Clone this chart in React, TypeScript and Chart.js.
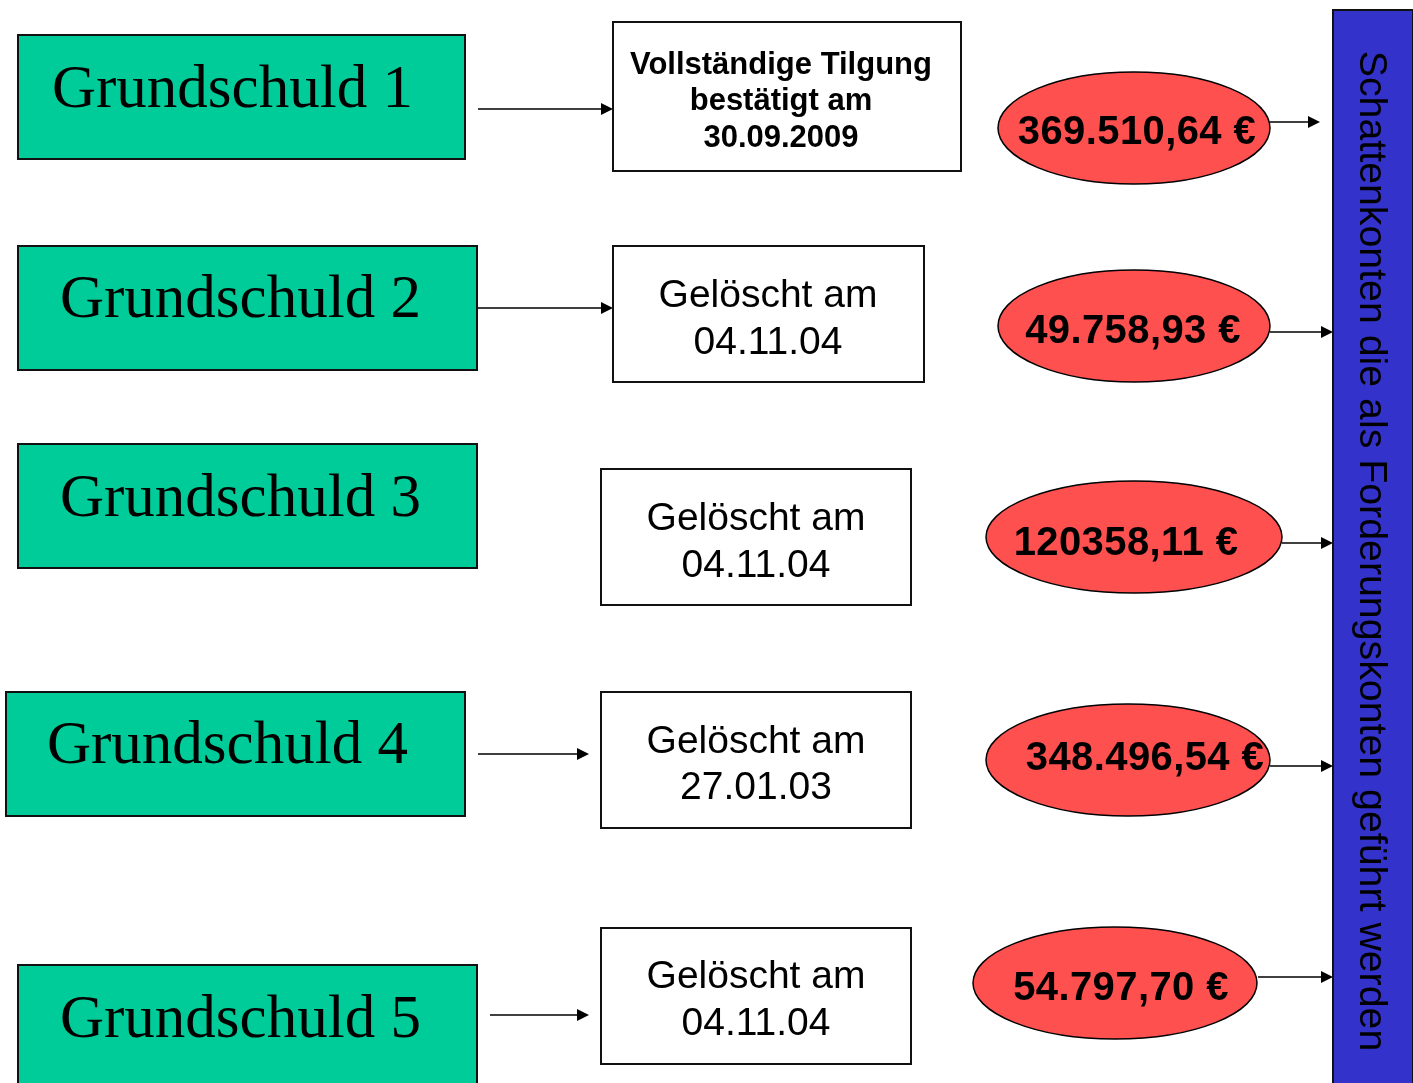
import React, { useEffect, useRef } from "react";
import { Chart, registerables } from "chart.js";

Chart.register(...registerables);

// ---- content ----
const categories = ["Grundschuld 1", "Grundschuld 2", "Grundschuld 3", "Grundschuld 4", "Grundschuld 5"];
const statusLines = [
  ["Vollständige Tilgung", "bestätigt am", "30.09.2009"],
  ["Gelöscht am", "04.11.04"],
  ["Gelöscht am", "04.11.04"],
  ["Gelöscht am", "27.01.03"],
  ["Gelöscht am", "04.11.04"],
];
const amounts = ["369.510,64 €", "49.758,93 €", "120358,11 €", "348.496,54 €", "54.797,70 €"];
const sideLabel = "Schattenkonten die als Forderungskonten geführt werden";

// ---- layout (pixel space of the scales) ----
const W = 1413;
const H = 1083;
const greenBoxes = [
  [18, 35, 465, 159],
  [18, 246, 477, 370],
  [18, 444, 477, 568],
  [6, 692, 465, 816],
  [18, 965, 477, 1090],
];
const greenText = [
  [52, 107],
  [60, 317],
  [60, 516],
  [47, 763],
  [60, 1037],
];
const leftArrows = [
  [478, 613, 109],
  [478, 613, 308],
  null,
  [478, 589, 754],
  [490, 589, 1015],
];
const whiteBoxes = [
  [613, 22, 961, 171],
  [613, 246, 924, 382],
  [601, 469, 911, 605],
  [601, 692, 911, 828],
  [601, 928, 911, 1064],
];
const whiteTextX = [781, 768, 756, 756, 756];
const whiteBaselines = [
  [74, 110, 147],
  [307, 354],
  [530, 577],
  [753, 799],
  [988, 1035],
];
const ellipses = [
  [1134, 128, 136, 56],
  [1134, 326, 136, 56],
  [1134, 537, 148, 56],
  [1128, 760, 142, 56],
  [1115, 983, 142, 56],
];
const ellipseText = [
  [1137, 144],
  [1133, 343],
  [1126, 555],
  [1145, 770],
  [1121, 1000],
];
const rightArrows = [
  [1270, 1320, 122],
  [1270, 1333, 332],
  [1282, 1333, 543],
  [1270, 1333, 766],
  [1258, 1333, 977],
];
const sideBar = [1333, 10, 1413, 1090];
const sideTextPos = [1360, 551];

const GREEN = "#00CC99";
const RED = "#FF5050";
const BLUE = "#3333CC";
const SERIF = "'Liberation Serif', 'Times New Roman', serif";
const SANS = "'Liberation Sans', Arial, sans-serif";

const diagramPlugin = {
  id: "diagram",
  afterDraw(chart: any) {
    const ctx: any = chart.ctx;
    const xs = chart.scales.x;
    const ys = chart.scales.y;
    const X = (v: number) => xs.getPixelForValue(v);
    const Y = (v: number) => ys.getPixelForValue(v);

    const rect = (b: number[], fill: string, stroke: string, lw: number) => {
      const x1 = X(b[0]), y1 = Y(b[1]), x2 = X(b[2]), y2 = Y(b[3]);
      ctx.fillStyle = fill;
      ctx.fillRect(x1, y1, x2 - x1, y2 - y1);
      ctx.lineWidth = lw;
      ctx.strokeStyle = stroke;
      ctx.strokeRect(x1, y1, x2 - x1, y2 - y1);
    };
    const arrow = (a: number[]) => {
      const x1 = X(a[0]), x2 = X(a[1]), y = Y(a[2]);
      ctx.strokeStyle = "#000";
      ctx.lineWidth = 1.5;
      ctx.beginPath();
      ctx.moveTo(x1, y);
      ctx.lineTo(x2 - 10, y);
      ctx.stroke();
      ctx.fillStyle = "#000";
      ctx.beginPath();
      ctx.moveTo(x2, y);
      ctx.lineTo(x2 - 12, y - 6);
      ctx.lineTo(x2 - 12, y + 6);
      ctx.closePath();
      ctx.fill();
    };

    ctx.save();
    ctx.fillStyle = "#fff";
    ctx.fillRect(0, 0, chart.width, chart.height);

    categories.forEach((cat, i) => {
      rect(greenBoxes[i], GREEN, "#111", 2);
      ctx.fillStyle = "#000";
      ctx.letterSpacing = "0px";
      ctx.font = `61px ${SERIF}`;
      ctx.textAlign = "left";
      ctx.textBaseline = "alphabetic";
      ctx.fillText(cat, X(greenText[i][0]), Y(greenText[i][1]));

      const la = leftArrows[i];
      if (la) arrow(la);

      rect(whiteBoxes[i], "#fff", "#111", 2);
      ctx.fillStyle = "#000";
      ctx.textAlign = "center";
      ctx.font = i === 0 ? `bold 31px ${SANS}` : `39px ${SANS}`;
      statusLines[i].forEach((line, j) => {
        ctx.fillText(line, X(whiteTextX[i]), Y(whiteBaselines[i][j]));
      });

      const e = ellipses[i];
      const cx = X(e[0]), cy = Y(e[1]);
      const rx = Math.abs(X(e[0] + e[2]) - cx), ry = Math.abs(Y(e[1] + e[3]) - cy);
      ctx.beginPath();
      ctx.ellipse(cx, cy, rx, ry, 0, 0, Math.PI * 2);
      ctx.fillStyle = RED;
      ctx.fill();
      ctx.lineWidth = 1.5;
      ctx.strokeStyle = "#000";
      ctx.stroke();
      ctx.fillStyle = "#000";
      ctx.font = `bold 40px ${SANS}`;
      ctx.letterSpacing = "0.4px";
      ctx.textAlign = "center";
      ctx.fillText(amounts[i], X(ellipseText[i][0]), Y(ellipseText[i][1]));
      ctx.letterSpacing = "0px";

      arrow(rightArrows[i]);
    });

    rect(sideBar, BLUE, "#111", 2);
    ctx.save();
    ctx.translate(X(sideTextPos[0]), Y(sideTextPos[1]));
    ctx.rotate(Math.PI / 2);
    ctx.fillStyle = "#000";
    ctx.font = `39.3px ${SANS}`;
    ctx.textAlign = "center";
    ctx.textBaseline = "alphabetic";
    ctx.fillText(sideLabel, 0, 0);
    ctx.restore();

    ctx.restore();
  },
};

export default function App() {
  const ref = useRef<HTMLCanvasElement | null>(null);
  useEffect(() => {
    if (!ref.current) return;
    const chart = new Chart(ref.current, {
      type: "scatter",
      data: { datasets: [{ data: [], pointRadius: 0 }] },
      options: {
        animation: false,
        responsive: false,
        devicePixelRatio: 1,
        layout: { padding: 0 },
        plugins: { legend: { display: false }, tooltip: { enabled: false } },
        scales: {
          x: { type: "linear", min: 0, max: W, display: false },
          y: { type: "linear", min: 0, max: H, reverse: true, display: false },
        },
      },
      plugins: [diagramPlugin],
    });
    return () => chart.destroy();
  }, []);
  return (
    <div style={{ position: "absolute", left: 0, top: 0, width: W, height: H, overflow: "hidden" }}>
      <canvas ref={ref} width={W} height={H} style={{ display: "block" }} />
    </div>
  );
}
